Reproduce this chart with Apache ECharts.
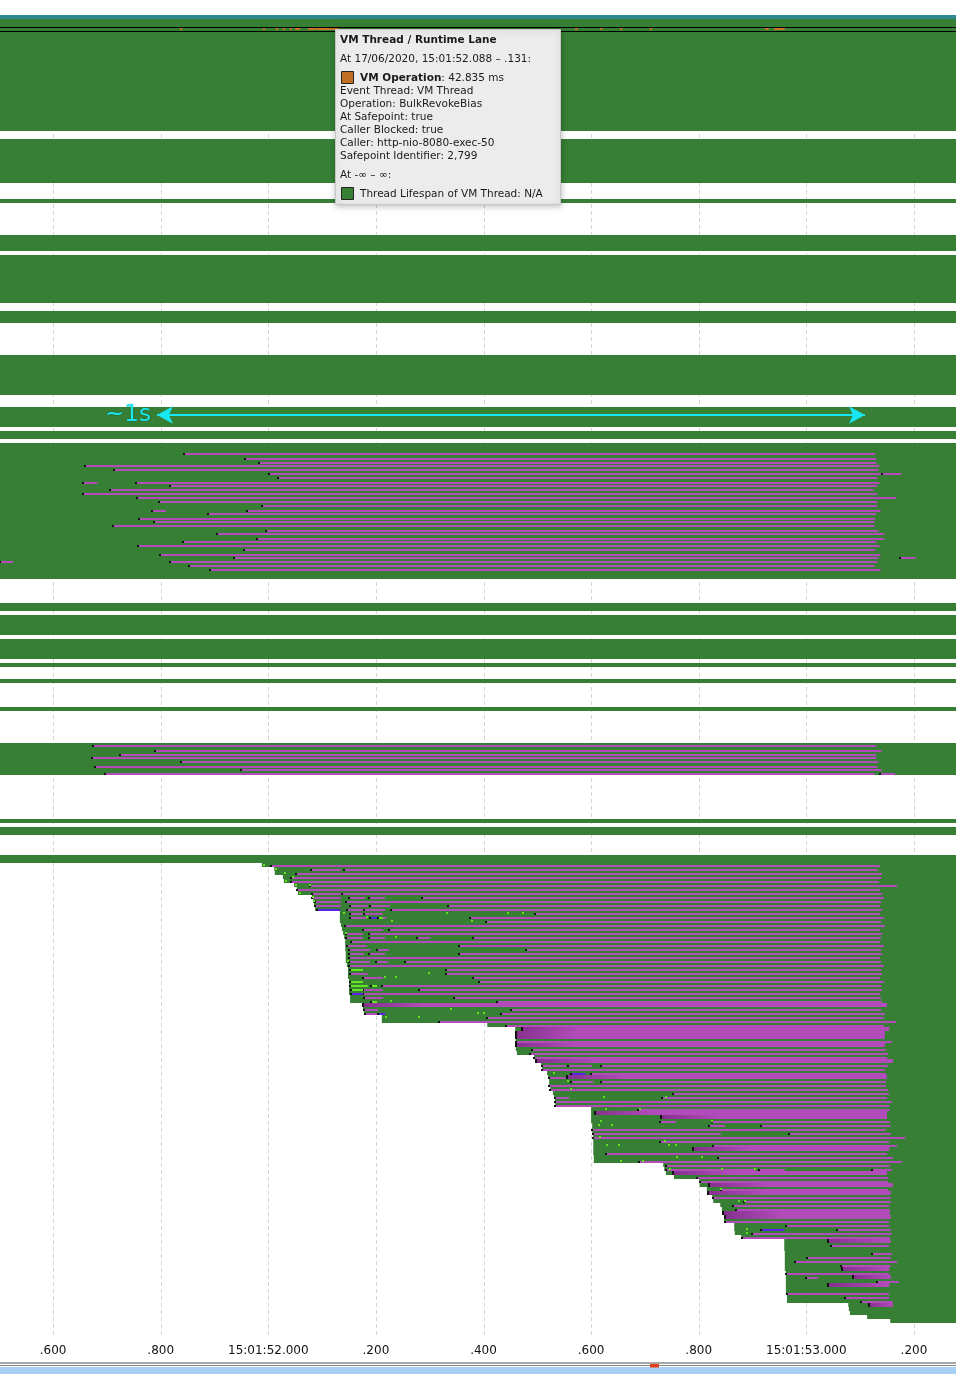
<!DOCTYPE html>
<html>
<head>
<meta charset="utf-8">
<script src="https://cdn.jsdelivr.net/npm/echarts@6/dist/echarts.min.js"></script>
<style>
    html, body { margin: 0; padding: 0; background: #fff; }
    #chart { width: 956px; height: 1374px; }
</style>
</head>
<body>
<div id="chart"></div>
<script>
// times are ms after 15:01:51.000, rows are thread lanes from the top
var timeMin = 501.3, timeMax = 2278.2;
var rowCount = 330.75;
var tickValues = [600, 800, 1000, 1200, 1400, 1600, 1800, 2000, 2200];
var tickLabels = ['.600', '.800', '15:01:52.000', '.200', '.400', '.600', '.800', '15:01:53.000', '.200'];

var headerRow = 0;
var vmRow = 3;
// thread lanes alive for the whole window [firstRow, lastRow]
var fullLanes = [[1, 28], [31, 41], [46, 46], [55, 58], [60, 71], [74, 76], [85, 94], [98, 102],
    [104, 105], [107, 140], [147, 148], [150, 154], [156, 160], [162, 162], [166, 166], [173, 173],
    [182, 189], [201, 201], [203, 204], [210, 211]];
// threads started during the window, one per row from stairFirstRow
var stairFirstRow = 212;
var stairStarts = [988, 1011, 1012, 1027, 1029, 1048, 1053, 1055, 1081, 1083, 1085, 1087,
    1133, 1133, 1133, 1135, 1137, 1139, 1141, 1143, 1143, 1143, 1144, 1144, 1144, 1146, 1148, 1148, 1148,
    1150, 1150, 1150, 1150, 1152, 1152,
    1174, 1176, 1178, 1211, 1211, 1407,
    1459, 1459, 1459, 1460, 1460, 1460, 1462,
    1494, 1498, 1507, 1509, 1518, 1520, 1522, 1522, 1524, 1529, 1531, 1533, 1533,
    1600, 1600, 1600, 1600, 1602, 1602, 1602, 1604, 1604, 1604, 1604, 1604, 1605, 1605,
    1734, 1736, 1739, 1754,
    1801, 1802, 1815, 1817, 1825, 1827, 1840, 1843, 1845, 1847, 1847,
    1866, 1866, 1867, 1879,
    1959, 1959, 1959, 1960, 1960, 1960, 1960, 1960,
    1962, 1962, 1962, 1962, 1962, 1962, 1964, 1964,
    2078, 2079, 2081, 2113, 2156];

// VM operations on the VM Thread lane [start, end]
var vmOps = [[836, 840], [990, 994], [1014, 1018], [1027, 1031], [1040, 1044], [1050, 1059], [1074, 1087],
    [1088, 1131], [1570, 1575], [1617, 1621], [1654, 1658], [1709, 1713], [1923, 1930], [1940, 1960]];

// blocked intervals [row, start, end, thick]
var blockedBars = [
    [108.9, 843, 2128], [110.25, 957, 2130], [111.25, 983, 2130], [111.9, 660, 2136], [112.9, 713, 2134],
    [113.9, 1001, 2139], [113.9, 2141, 2177], [114.9, 1018, 2132], [116.25, 656, 682], [116.25, 754, 2136],
    [116.9, 817, 2132], [117.9, 706, 2125], [118.9, 656, 2132], [119.9, 756, 2167], [120.9, 797, 2132],
    [121.9, 988, 2132], [123.25, 784, 810], [123.25, 960, 2138], [123.9, 888, 2130], [125.25, 760, 2128],
    [125.9, 788, 2127], [126.9, 712, 2127], [128.25, 996, 2134], [128.9, 905, 2145], [130.25, 979, 2145],
    [130.9, 842, 2130], [131.9, 758, 2136], [132.9, 955, 2128], [134.25, 799, 2138], [134.9, 936, 2134],
    [134.9, 2175, 2203], [135.9, 502, 526], [135.9, 817, 2132], [136.9, 853, 2127], [137.9, 892, 2138],

    [181.9, 674, 2130], [183.25, 790, 2140], [184.25, 724, 2130], [184.9, 672, 2130], [185.9, 837, 2134],
    [187.25, 678, 2132], [187.9, 949, 2140], [188.9, 697, 2127], [188.9, 2137, 2165],

    [212, 1005, 2137], [213, 1079, 1135], [213, 1141, 2133], [214, 1052, 2141], [215, 1042, 2139],
    [216, 1042, 2135], [217, 1078, 2169], [218, 1053, 2137], [219, 1081, 1135], [219, 1137, 2141],
    [220, 1081, 1135], [220, 1150, 1180], [220, 1187, 1217], [220, 1286, 2144],
    [221, 1087, 1135], [221, 1144, 2139],
    [222, 1087, 1135], [222, 1152, 1185], [222, 1189, 1226], [222, 1334, 2137],
    [223, 1146, 1176], [223, 1178, 1217], [223, 1228, 2141],
    [224, 1152, 1176], [224, 1178, 1213], [224, 1496, 2137],
    [225, 1152, 1183], [225, 1189, 1219], [225, 1375, 2144],
    [226, 1405, 2139], [227, 1143, 2146], [228, 1176, 1213], [228, 1224, 2137],
    [229, 1144, 1176], [229, 1187, 2141],
    [230, 1144, 1176], [230, 1187, 1217], [230, 1276, 1301], [230, 1380, 2139],
    [231, 1154, 2137], [232, 1146, 1183], [232, 1355, 2144],
    [233, 1150, 1189], [233, 1202, 1224], [233, 1479, 2139],
    [234, 1150, 1178], [234, 1187, 1217], [234, 1355, 2141],
    [235, 1150, 2137], [236, 1150, 1189], [236, 1200, 1223], [236, 1254, 2139],
    [237, 1150, 2144], [238, 1330, 2139], [239, 1152, 1185], [239, 1330, 2141],
    [240, 1176, 1213], [240, 1380, 2137], [241, 1392, 2144], [242, 1211, 2139],
    [243, 1176, 1213], [243, 1280, 2141], [244, 1176, 2137], [245, 1178, 1213], [245, 1345, 2139],
    [246, 1425, 2141], [247, 1176, 2150, 1], [248, 1178, 1204], [248, 1451, 2139],
    [249, 1180, 1204], [249, 1433, 2146], [250, 1407, 2144], [251, 1317, 2167], [252, 1442, 2144],
    [253, 1472, 2154, 1], [254, 1460, 2146, 1], [255, 1460, 2146, 1], [256, 1460, 2159], [257, 1460, 2146, 1],
    [258, 1490, 2148], [259, 1486, 2152], [260, 1494, 2150], [261, 1498, 2161, 1],
    [262, 1509, 1553], [262, 1557, 1602], [262, 1618, 2152], [263, 1509, 2146], [264, 1600, 2148],
    [265, 1522, 1553], [265, 1555, 2150, 1], [266, 1563, 1604], [266, 1618, 2148], [267, 1522, 2148],
    [268, 1524, 2152], [269, 1752, 2154], [270, 1533, 1559], [270, 1732, 2150], [271, 1533, 2159],
    [272, 1533, 2154], [273, 1687, 2155], [274, 1607, 2150, 1], [275, 1730, 2150, 1],
    [276, 1728, 1758], [276, 1825, 2155], [277, 1819, 1849], [277, 1916, 2157], [278, 1602, 2148],
    [279, 1604, 1841], [279, 1968, 2157], [280, 1604, 2184], [281, 1728, 2154], [282, 1827, 2169],
    [283, 1789, 2154, 1], [284, 1628, 2150], [285, 1836, 2161], [286, 1689, 2178], [287, 1739, 2155],
    [288, 1739, 1905], [288, 1912, 1960], [288, 2122, 2159], [289, 1752, 2150, 1], [290, 1797, 2152],
    [291, 1802, 2152], [292, 1819, 2161, 1], [293, 1841, 2152], [294, 1817, 2157, 1], [295, 1827, 2157],
    [296, 1884, 2157], [297, 1864, 2154], [298, 1869, 2155], [299, 1845, 2155, 1], [300, 1849, 2157, 1],
    [301, 1849, 2154], [302, 1962, 2154], [303, 2057, 2157], [304, 1899, 2159], [305, 1880, 2155],
    [306, 2040, 2157, 1], [307, 2046, 2154], [309, 2122, 2159], [310, 2001, 2157], [311, 1979, 2169],
    [312, 2064, 2157], [313, 2066, 2154, 1], [314, 1962, 2154], [315, 1999, 2022], [315, 2087, 2157, 1],
    [316, 2131, 2172], [317, 2040, 2154, 1], [319, 1964, 2154], [320, 2072, 2154], [321, 2102, 2161],
    [322, 2117, 2161, 1]
];
var waitingBars = [[223, 1091, 1133], [225, 1189, 1204], [244, 1154, 1176], [249, 1204, 1217],
    [264, 1563, 1589], [303, 1916, 1959]];
var runningBars = [[238, 1152, 1176], [241, 1152, 1176], [242, 1152, 1185], [242, 1191, 1202],
    [243, 1154, 1176], [246, 1191, 1202], [225, 1204, 1213]];
// short samples [row, time]
var sampleDots = [[212, 990], [213, 1012], [214, 1029], [215, 1044], [216, 1031], [217, 1050], [217, 1076],
    [219, 1057], [220, 1081], [221, 1083], [224, 1139], [225, 1182], [226, 1228], [224, 1330], [224, 1444],
    [224, 1472], [226, 1377], [230, 1236], [229, 1143], [236, 1146], [239, 1297], [240, 1215], [240, 1236],
    [246, 1226], [248, 1338], [249, 1388], [249, 1399], [250, 1278], [250, 1217], [264, 1529], [266, 1555],
    [268, 1561], [270, 1622], [270, 1737], [273, 1626], [273, 1689], [276, 1617], [277, 1613], [277, 1637],
    [276, 1823], [280, 1615], [281, 1735], [282, 1743], [282, 1756], [282, 1628], [282, 1650], [285, 1758],
    [285, 1804], [286, 1654], [286, 1695], [288, 1745], [288, 1841], [288, 1903], [293, 1840], [296, 1873],
    [296, 1884], [303, 1888], [304, 1888]];

var spanArrow = [793, 2109];
var spanRow = 100;
var spanLabel = '~1s';

var tooltipLines = [
    'At 17/06/2020, 15:01:52.088 \u2013 .131:',
    '{b|VM Operation}: 42.835 ms',
    'Event Thread: VM Thread',
    'Operation: BulkRevokeBias',
    'At Safepoint: true',
    'Caller Blocked: true',
    'Caller: http-nio-8080-exec-50',
    'Safepoint Identifier: 2,799',
    'At -\u221e \u2013 \u221e:',
    'Thread Lifespan of VM Thread: N/A'
];

var green = '#367f34', teal = '#2e8a8e', purple = '#b24cba';

var laneData = [[headerRow, headerRow, timeMin, timeMax, 1]];
fullLanes.forEach(function (l) { laneData.push([l[0], l[1], timeMin, timeMax, 0]); });
stairStarts.forEach(function (t, i) { laneData.push([stairFirstRow + i, stairFirstRow + i, t, timeMax, 0]); });

function norm(list) {
    return list.map(function (b) { return [b[0], b[1], b[2], b[3] || 0]; });
}

function renderLane(params, api) {
    var a = api.coord([api.value(2), api.value(0)]);
    var b = api.coord([api.value(3), api.value(1) + 1]);
    return {
        type: 'rect',
        shape: { x: a[0], y: a[1], width: b[0] - a[0], height: b[1] - a[1] },
        style: { fill: api.value(4) ? teal : green }
    };
}

function barRenderer(color, fade) {
    return function (params, api) {
        var row = api.value(0);
        var thick = api.value(3) === 1;
        var a = api.coord([api.value(1), row]);
        var b = api.coord([api.value(2), row + 1]);
        var rowH = b[1] - a[1];
        var y = thick ? Math.round(a[1]) : Math.round(a[1] + rowH * 0.5);
        var h = thick ? Math.round(rowH) : 2;
        var w = Math.max(b[0] - a[0], 1);
        var fill = color;
        if (fade && thick) {
            fill = {
                type: 'linear', x: 0, y: 0, x2: 1, y2: 0,
                colorStops: [{ offset: 0, color: '#85318e' }, { offset: Math.min(1, 60 / w), color: color }, { offset: 1, color: color }]
            };
        }
        return {
            type: 'group',
            children: [
                { type: 'rect', shape: { x: a[0], y: y, width: w, height: h }, style: { fill: fill } },
                { type: 'rect', shape: { x: Math.round(a[0]) - 1, y: y, width: 2, height: h }, style: { fill: '#111' } }
            ]
        };
    };
}

function renderDot(params, api) {
    var p = api.coord([api.value(1), api.value(0) + 0.25]);
    return { type: 'rect', shape: { x: Math.round(p[0]), y: Math.round(p[1]), width: 2, height: 2 }, style: { fill: '#62e21e' } };
}

function renderGridLine(params, api) {
    var a = api.coord([api.value(0), 0]);
    var b = api.coord([api.value(0), rowCount]);
    var x = Math.round(a[0]) + 0.5;
    return {
        type: 'line',
        shape: { x1: x, y1: a[1], x2: x, y2: b[1] },
        style: { stroke: '#d6d6d6', lineWidth: 1, lineDash: [4, 3] }
    };
}

function renderVmRow(params, api) {
    var a = api.coord([timeMin, api.value(0)]);
    var b = api.coord([timeMax, api.value(0) + 0.9]);
    return {
        type: 'rect',
        shape: { x: a[0] - 2, y: Math.round(a[1]) + 0.5, width: b[0] - a[0] + 4, height: Math.round(b[1] - a[1]) },
        style: { fill: null, stroke: '#000', lineWidth: 1 }
    };
}

function renderVmOp(params, api) {
    var a = api.coord([api.value(0), vmRow]);
    var b = api.coord([api.value(1), vmRow + 0.5]);
    return { type: 'rect', shape: { x: a[0], y: Math.round(a[1]) + 1, width: Math.max(b[0] - a[0], 1.5), height: 2 }, style: { fill: '#c87528' } };
}

var txt = '#1a1a1a';
var graphics = [
    {
        type: 'rect', z: 100,
        shape: { x: 335.5, y: 29.5, width: 225, height: 175 },
        style: { fill: '#ececec', stroke: '#c6c6c6', lineWidth: 1, shadowBlur: 6, shadowColor: 'rgba(0,0,0,0.25)', shadowOffsetY: 1 }
    },
    {
        type: 'text', z: 101, x: 340, y: 40,
        style: { text: 'VM Thread / Runtime Lane', fill: txt, fontSize: 10.5, fontWeight: 'bold', fontFamily: 'DejaVu Sans', verticalAlign: 'middle' }
    },
    { type: 'rect', z: 101, shape: { x: 341.5, y: 71.5, width: 12, height: 12 }, style: { fill: '#c07024', stroke: '#222', lineWidth: 1 } },
    { type: 'rect', z: 101, shape: { x: 341.5, y: 187.5, width: 12, height: 12 }, style: { fill: green, stroke: '#222', lineWidth: 1 } }
];
var lineY = [59, 78, 91, 104, 117, 130, 143, 156, 175, 194];
var lineX = [340, 360, 340, 340, 340, 340, 340, 340, 340, 360];
tooltipLines.forEach(function (s, i) {
    graphics.push({
        type: 'text', z: 101, x: lineX[i], y: lineY[i],
        style: {
            text: s, fill: txt, fontSize: 10.5, fontFamily: 'DejaVu Sans', verticalAlign: 'middle',
            rich: { b: { fontWeight: 'bold', fontSize: 10.5, fontFamily: 'DejaVu Sans', fill: txt } }
        }
    });
});
graphics.push(
    { type: 'rect', z: 100, shape: { x: 0, y: 1362.5, width: 956, height: 1 }, style: { fill: '#555' } },
    { type: 'rect', z: 100, shape: { x: 0, y: 1365, width: 956, height: 1 }, style: { fill: '#888' } },
    { type: 'rect', z: 100, shape: { x: 0, y: 1367, width: 956, height: 7 }, style: { fill: '#a8d0f4' } },
    { type: 'rect', z: 101, shape: { x: 650, y: 1364, width: 9, height: 3.5 }, style: { fill: '#e2401c' } }
);

var myChart = echarts.init(document.getElementById('chart'));

var option = {
    animation: false,
    backgroundColor: '#fff',
    grid: { left: 0, right: 0, top: 15, bottom: 36 },
    xAxis: {
        type: 'value',
        min: timeMin,
        max: timeMax,
        axisLine: { lineStyle: { color: '#000', width: 1 } },
        axisTick: { customValues: tickValues, length: 4, lineStyle: { color: '#000' } },
        axisLabel: {
            customValues: tickValues,
            color: '#111',
            fontSize: 12,
            fontFamily: 'DejaVu Sans',
            margin: 7,
            formatter: function (v) { return tickLabels[tickValues.indexOf(v)]; }
        },
        splitLine: { show: false }
    },
    yAxis: { type: 'value', inverse: true, min: 0, max: rowCount, show: false },
    series: [
        { type: 'custom', z: 1, silent: true, renderItem: renderGridLine, encode: { x: 0 }, data: tickValues.map(function (v) { return [v]; }) },
        { type: 'custom', z: 2, silent: true, renderItem: renderLane, encode: { x: [2, 3], y: [0, 1] }, data: laneData },
        { type: 'custom', z: 3, silent: true, renderItem: renderVmRow, encode: { y: 0 }, data: [[vmRow]] },
        { type: 'custom', z: 4, silent: true, renderItem: renderVmOp, encode: { x: [0, 1] }, data: vmOps },
        { type: 'custom', z: 4, silent: true, renderItem: barRenderer(purple, true), encode: { x: [1, 2], y: 0 }, data: norm(blockedBars) },
        { type: 'custom', z: 5, silent: true, renderItem: barRenderer('#5a22e6', false), encode: { x: [1, 2], y: 0 }, data: norm(waitingBars) },
        { type: 'custom', z: 5, silent: true, renderItem: barRenderer('#66e622', false), encode: { x: [1, 2], y: 0 }, data: norm(runningBars) },
        { type: 'custom', z: 6, silent: true, renderItem: renderDot, encode: { x: 1, y: 0 }, data: sampleDots },
        {
            type: 'line', z: 7, silent: true, data: [],
            markLine: {
                silent: true,
                symbol: ['arrow', 'arrow'],
                symbolSize: [13, 16],
                lineStyle: { color: '#18e6f2', width: 2, type: 'solid' },
                label: {
                    show: true, position: 'start', distance: 6, formatter: spanLabel,
                    color: '#18e6f2', fontSize: 23, fontFamily: 'DejaVu Sans',
                    textShadowColor: 'rgba(0,0,0,0.35)', textShadowBlur: 2
                },
                data: [[{ coord: [spanArrow[0], spanRow] }, { coord: [spanArrow[1], spanRow] }]]
            }
        }
    ],
    graphic: { elements: graphics }
};

myChart.setOption(option);
</script>
</body>
</html>
